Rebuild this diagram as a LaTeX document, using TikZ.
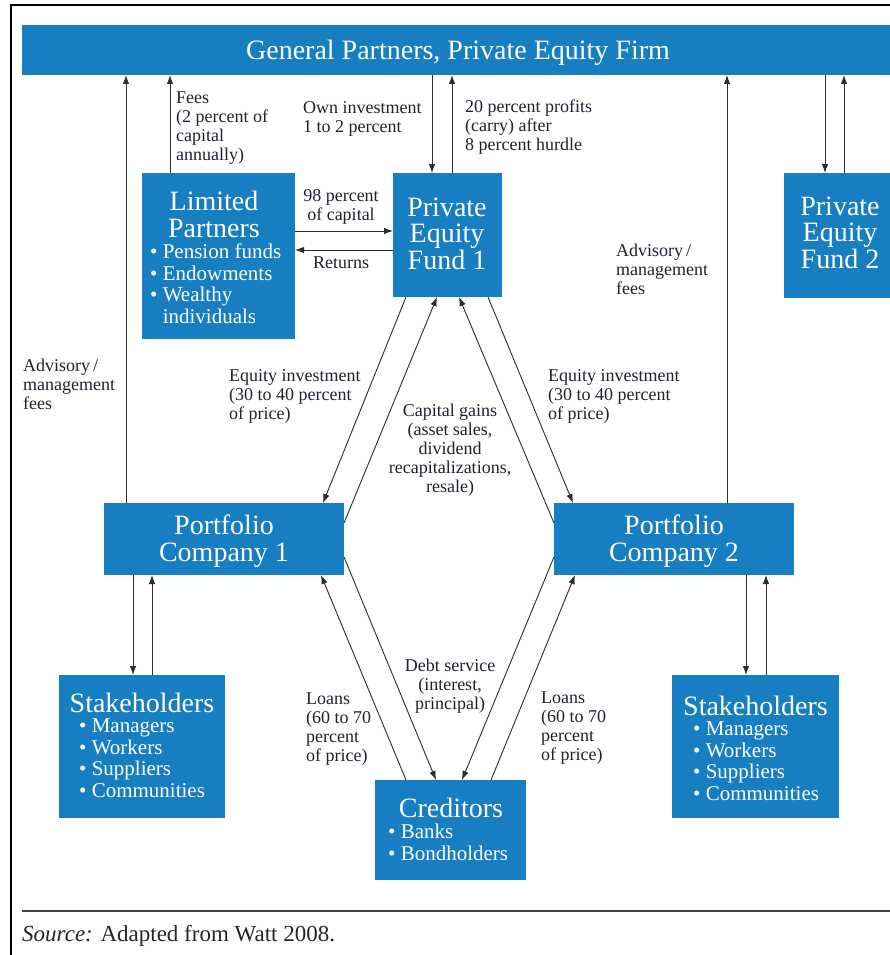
\documentclass[tikz,border=0pt]{standalone}
\usepackage{fontspec}
\setmainfont{Liberation Serif}
\usetikzlibrary{arrows.meta}
\definecolor{boxblue}{RGB}{22,126,193}
\definecolor{labcol}{RGB}{35,33,48}
\definecolor{arrcol}{RGB}{45,45,45}
\tikzset{
  box/.style={fill=boxblue, draw=none, inner sep=0pt, outer sep=0pt},
  boxtitle/.style={text=white, font=\fontsize{28}{26.5}\selectfont, align=center, inner sep=0pt, anchor=mid},
  boxlist/.style={text=white, font=\fontsize{21}{21.5}\selectfont, align=left, inner sep=0pt, anchor=mid west},
  lab/.style={text=labcol, font=\fontsize{18}{19}\selectfont, align=left, inner sep=0pt, anchor=mid west},
  labcenter/.style={text=labcol, font=\fontsize{18}{19}\selectfont, align=center, inner sep=0pt, anchor=mid},
  arr/.style={draw=arrcol, line width=0.9pt, -{Latex[length=9pt,width=6.5pt]}}
}
\begin{document}
\begin{tikzpicture}[x=1pt,y=-1pt]
\useasboundingbox (0,0) rectangle (890,955);
\clip (0,0) rectangle (890,955);
\fill[white] (0,0) rectangle (890,955);
% frame
\draw[line width=2pt, black] (11,956) -- (11,5) -- (891,5);
\draw[line width=2.5pt, black!75] (22,911) -- (891,911);
\node[anchor=mid west, inner sep=0pt, font=\fontsize{23}{25}\selectfont, text=black!85] (src) at (22,939) {\textit{Source:} Adapted from Watt 2008.};

% boxes
\node[box, minimum width=868pt, minimum height=50pt] (gp) at (456,50) {};
\node[box, minimum width=153pt, minimum height=166pt] (lp) at (218.5,256) {};
\node[box, minimum width=109pt, minimum height=124pt] (f1) at (447.5,235) {};
\node[box, minimum width=112pt, minimum height=125pt] (f2) at (840,235.5) {};
\node[box, minimum width=240pt, minimum height=72pt] (pc1) at (224,539) {};
\node[box, minimum width=240pt, minimum height=72pt] (pc2) at (674,539) {};
\node[box, minimum width=166pt, minimum height=143pt] (sh1) at (142,746.5) {};
\node[box, minimum width=167pt, minimum height=143pt] (sh2) at (755.5,746.5) {};
\node[box, minimum width=151pt, minimum height=100pt] (cr) at (450.5,830) {};

% box texts (y = last line)
\node[boxtitle] (gpt) at (458,57) {General Partners, Private Equity Firm};
\node[boxtitle] (lpt) at (214,235) {Limited\\Partners};
\node[boxlist] (lpl) at (150,321) {\textbullet\ Pension funds\\\textbullet\ Endowments\\\textbullet\ Wealthy\\\phantom{\textbullet\ }individuals};
\node[boxtitle] (f1t) at (447,267) {Private\\Equity\\Fund 1};
\node[boxtitle] (f2t) at (840,266) {Private\\Equity\\Fund 2};
\node[boxtitle] (pc1t) at (224,559) {Portfolio\\Company 1};
\node[boxtitle] (pc2t) at (674,559) {Portfolio\\Company 2};
\node[boxtitle] (sh1t) at (142,710) {Stakeholders};
\node[boxlist] (sh1l) at (79,795) {\textbullet\ Managers\\\textbullet\ Workers\\\textbullet\ Suppliers\\\textbullet\ Communities};
\node[boxtitle] (sh2t) at (755.5,713) {Stakeholders};
\node[boxlist] (sh2l) at (693,798) {\textbullet\ Managers\\\textbullet\ Workers\\\textbullet\ Suppliers\\\textbullet\ Communities};
\node[boxtitle] (crt) at (451,815) {Creditors};
\node[boxlist] (crl) at (388,858) {\textbullet\ Banks\\\textbullet\ Bondholders};

% labels (y = last line)
\node[lab] (lfees) at (176,158) {Fees\\(2 percent of\\capital\\annually)};
\node[lab] (lown) at (303,130) {Own investment\\1 to 2 percent};
\node[lab] (lcarry) at (465,148) {20 percent profits\\(carry) after\\8 percent hurdle};
\node[labcenter] (l98) at (341,218) {98 percent\\of capital};
\node[labcenter] (lret) at (341,266) {Returns};
\node[lab] (ladv1) at (23,407) {Advisory\,/\\management\\fees};
\node[lab] (ladv2) at (616,292) {Advisory\,/\\management\\fees};
\node[lab] (leq1) at (229,417) {Equity investment\\(30 to 40 percent\\of price)};
\node[lab] (leq2) at (548,417) {Equity investment\\(30 to 40 percent\\of price)};
\node[labcenter] (lcap) at (450,490) {Capital gains\\(asset sales,\\dividend\\recapitalizations,\\resale)};
\node[lab] (lloan1) at (306,759) {Loans\\(60 to 70\\percent\\of price)};
\node[labcenter] (ldebt) at (450,707) {Debt service\\(interest,\\principal)};
\node[lab] (lloan2) at (541,758) {Loans\\(60 to 70\\percent\\of price)};

% connectors
\draw[arr] ([xshift=22pt]pc1.north west) -- ([xshift=104pt]gp.south west);
\draw[arr] ([xshift=28pt]lp.north west) -- ([xshift=148pt]gp.south west);
\draw[arr] ([xshift=410pt]gp.south west) -- ([xshift=39pt]f1.north west);
\draw[arr] ([xshift=59pt]f1.north west) -- ([xshift=430pt]gp.south west);
\draw[arr] ([xshift=173pt]pc2.north west) -- ([xshift=705pt]gp.south west);
\draw[arr] ([xshift=803pt]gp.south west) -- ([xshift=41pt]f2.north west);
\draw[arr] ([xshift=60pt]f2.north west) -- ([xshift=822pt]gp.south west);
\draw[arr] ([yshift=-58pt]lp.north east) -- ([yshift=-58pt]f1.north west);
\draw[arr] ([yshift=-77pt]f1.north west) -- ([yshift=-77pt]lp.north east);
\draw[arr] ([xshift=13pt]f1.south west) -- ([xshift=219pt]pc1.north west);
\draw[arr] ([yshift=-20pt]pc1.north east) -- ([xshift=44pt]f1.south west);
\draw[arr] ([yshift=-20pt]pc2.north west) -- ([xshift=66pt]f1.south west);
\draw[arr] ([xshift=95pt]f1.south west) -- ([xshift=19pt]pc2.north west);
\draw[arr] ([xshift=29pt]pc1.south west) -- ([xshift=74pt]sh1.north west);
\draw[arr] ([xshift=93pt]sh1.north west) -- ([xshift=48pt]pc1.south west);
\draw[arr] ([xshift=192pt]pc2.south west) -- ([xshift=74pt]sh2.north west);
\draw[arr] ([xshift=94pt]sh2.north west) -- ([xshift=212pt]pc2.south west);
\draw[arr] ([xshift=31pt]cr.north west) -- ([xshift=217pt]pc1.south west);
\draw[arr] ([yshift=18pt]pc1.south east) -- ([xshift=61pt]cr.north west);
\draw[arr] ([yshift=18pt]pc2.south west) -- ([xshift=87pt]cr.north west);
\draw[arr] ([xshift=116pt]cr.north west) -- ([xshift=21pt]pc2.south west);
\end{tikzpicture}
\end{document}
